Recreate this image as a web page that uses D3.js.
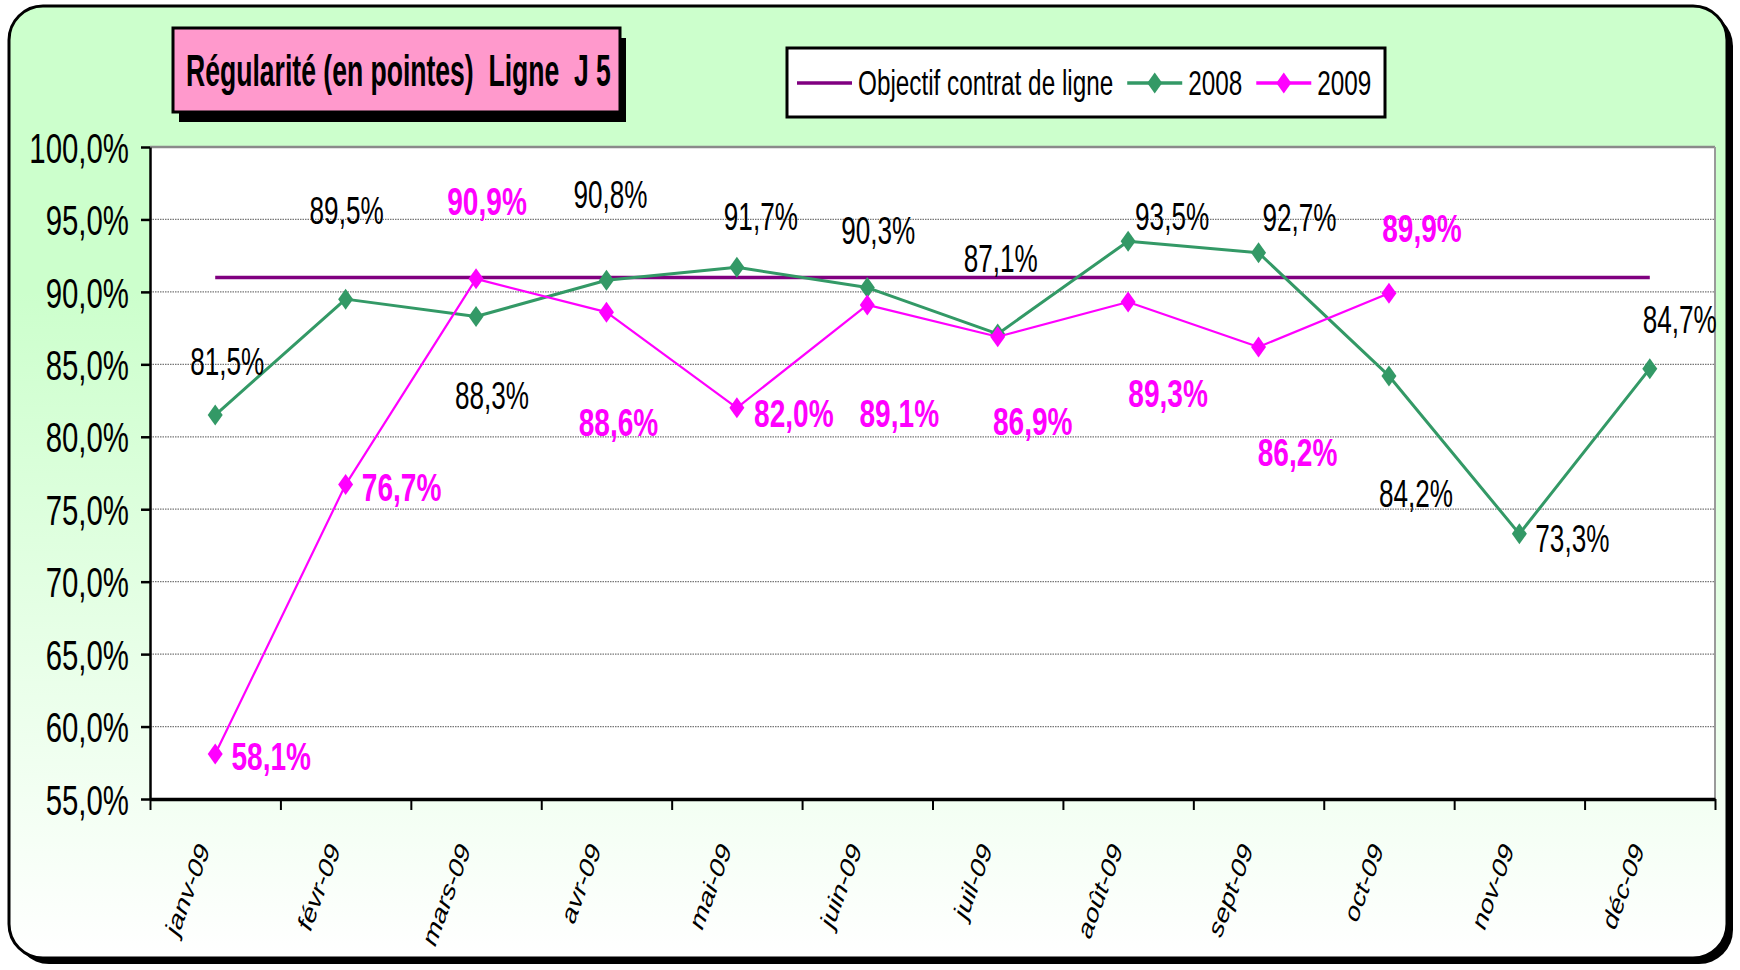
<!DOCTYPE html>
<html>
<head>
<meta charset="utf-8">
<script src="https://cdn.jsdelivr.net/npm/d3@7"></script>
<style>
  html, body { margin: 0; padding: 0; background: #ffffff; }
  svg { display: block; }
  text { font-family: "Liberation Sans", Arial, sans-serif; }
</style>
</head>
<body>
<svg id="chart" width="1740" height="970"></svg>
<script>
// ---------- data ----------
const months = ["janv-09","févr-09","mars-09","avr-09","mai-09","juin-09","juil-09","août-09","sept-09","oct-09","nov-09","déc-09"];
const values2008 = [81.5, 89.5, 88.3, 90.8, 91.7, 90.3, 87.1, 93.5, 92.7, 84.2, 73.3, 84.7];
const values2009 = [58.1, 76.7, 90.9, 88.6, 82.0, 89.1, 86.9, 89.3, 86.2, 89.9, null, null];
const objectif   = [91.0, 91.0, 91.0, 91.0, 91.0, 91.0, 91.0, 91.0, 91.0, 91.0, 91.0, 91.0];
const yTicks = [55, 60, 65, 70, 75, 80, 85, 90, 95, 100];
const seriesNames = ["Objectif contrat de ligne", "2008", "2009"];
const titleText = "Régularité (en pointes)  Ligne  J 5";

// label placement offsets (pixels from the point), layout only
const labelOffsets2008 = [[12,-54],[1,-89],[16,78],[4,-86],[24,-51],[11,-58],[3,-76],[44,-25],[41,-36],[27,117],[53,4],[30,-50]];
const labelOffsets2009 = [[56,2],[56,2],[11,-78],[12,110],[57,5],[32,108],[35,84],[40,91],[39,105],[33,-65]];

// ---------- layout ----------
const W = 1740, H = 970;
const plot = { left: 150, right: 1715, top: 147, bottom: 799 };
const C_GREEN = "#339966", C_MAG = "#FF00FF", C_PURPLE = "#800080";

const svg = d3.select("#chart");
const defs = svg.append("defs");
const grad = defs.append("linearGradient").attr("id", "bg").attr("x1", 0).attr("y1", 0).attr("x2", 0).attr("y2", 1);
grad.append("stop").attr("offset", "0%").attr("stop-color", "#CCFFCC");
grad.append("stop").attr("offset", "30%").attr("stop-color", "#CCFFCC");
grad.append("stop").attr("offset", "100%").attr("stop-color", "#FFFFFF");

// outer frame with shadow
svg.append("rect").attr("x", 15).attr("y", 12).attr("width", 1718).attr("height", 952)
  .attr("rx", 34).attr("fill", "#000");
svg.append("rect").attr("x", 9).attr("y", 6).attr("width", 1718).attr("height", 952)
  .attr("rx", 34).attr("fill", "url(#bg)").attr("stroke", "#000").attr("stroke-width", 3);

// scales
const x = d3.scaleBand().domain(months).range([plot.left, plot.right]).paddingInner(0).paddingOuter(0);
const xEdge = d3.scaleLinear().domain([0, months.length]).range([plot.left, plot.right]);
const y = d3.scaleLinear().domain([55, 100]).range([plot.bottom, plot.top]);
const cx = m => x(m) + x.bandwidth() / 2;

// plot area
svg.append("rect").attr("x", plot.left).attr("y", plot.top)
  .attr("width", plot.right - plot.left).attr("height", plot.bottom - plot.top).attr("fill", "#fff");

// gridlines
svg.append("g").selectAll("line").data(yTicks.filter(t => t > 55 && t < 100)).join("line")
  .attr("x1", plot.left).attr("x2", plot.right)
  .attr("y1", d => y(d)).attr("y2", d => y(d))
  .attr("stroke", "#777").attr("stroke-width", 1.2).attr("stroke-dasharray", "1.5,1");
// top & right borders
svg.append("line").attr("x1", plot.left).attr("x2", plot.right).attr("y1", plot.top).attr("y2", plot.top)
  .attr("stroke", "#8a8a8a").attr("stroke-width", 2.5);
svg.append("line").attr("x1", plot.right).attr("x2", plot.right).attr("y1", plot.top).attr("y2", plot.bottom)
  .attr("stroke", "#9a9a9a").attr("stroke-width", 2);

// French number format
const fr = d3.formatLocale({ decimal: ",", thousands: " ", grouping: [3], currency: ["", " €"] });
const pct = v => fr.format(".1f")(v) + "%";

// y axis
const yAxis = svg.append("g").attr("transform", `translate(${plot.left},0)`)
  .call(d3.axisLeft(y).tickValues(yTicks).tickSize(9).tickSizeOuter(0).tickFormat(pct));
yAxis.select(".domain").attr("stroke", "#000").attr("stroke-width", 2.5);
yAxis.selectAll(".tick line").attr("stroke", "#000").attr("stroke-width", 2.5);
yAxis.selectAll(".tick text")
  .attr("font-size", 42).attr("fill", "#000")
  .attr("font-family", "Liberation Sans, Arial, sans-serif")
  .attr("x", 0).attr("dy", "0.36em")
  .attr("transform", "translate(-21,0) scale(0.7,1)");

// x axis: tick marks at category edges
const xTicks = svg.append("g").attr("transform", `translate(0,${plot.bottom})`)
  .call(d3.axisBottom(xEdge).tickValues(d3.range(months.length + 1)).tickSize(11).tickSizeOuter(0).tickFormat(""));
xTicks.select(".domain").attr("stroke", "#000").attr("stroke-width", 3.5);
xTicks.selectAll(".tick line").attr("stroke", "#000").attr("stroke-width", 2);

// x axis labels
const xLab = svg.append("g").attr("transform", `translate(0,${plot.bottom})`)
  .call(d3.axisBottom(x).tickSize(0).tickSizeOuter(0));
xLab.select(".domain").remove();
xLab.selectAll(".tick text")
  .attr("font-size", 30.5).attr("fill", "#000")
  .attr("font-family", "Liberation Sans, Arial, sans-serif")
  .attr("text-anchor", "end").attr("x", 0).attr("y", 0).attr("dy", 0)
  .attr("transform", "translate(-5,51) scale(0.69,1) rotate(-62)");

// objective line
const line = d3.line().defined(d => d.v != null).x(d => cx(d.m)).y(d => y(d.v));
svg.append("path").datum(months.map((m, i) => ({ m, v: objectif[i] })))
  .attr("d", line).attr("fill", "none").attr("stroke", C_PURPLE).attr("stroke-width", 3.5);

const diamond = "M0,-10.5L7.5,0L0,10.5L-7.5,0Z";

function drawSeries(vals, color, width) {
  const data = months.map((m, i) => ({ m, v: vals[i] }));
  svg.append("path").datum(data).attr("d", line)
    .attr("fill", "none").attr("stroke", color).attr("stroke-width", width).attr("stroke-linejoin", "round");
  svg.append("g").selectAll("path").data(data.filter(d => d.v != null)).join("path")
    .attr("d", diamond).attr("fill", color)
    .attr("transform", d => `translate(${cx(d.m)},${y(d.v)})`);
}
drawSeries(values2008, C_GREEN, 3);
drawSeries(values2009, C_MAG, 2.2);

// data labels
function drawLabels(vals, offsets, color, weight, size, sq) {
  const data = months.map((m, i) => ({ m, v: vals[i], o: offsets[i] })).filter(d => d.v != null);
  svg.append("g").selectAll("text").data(data).join("text")
    .attr("text-anchor", "middle").attr("dy", "0.36em")
    .attr("font-size", size).attr("font-weight", weight).attr("fill", color)
    .attr("transform", d => `translate(${cx(d.m) + d.o[0]},${y(d.v) + d.o[1]}) scale(${sq},1)`)
    .text(d => pct(d.v));
}
drawLabels(values2008, labelOffsets2008, "#000", "normal", 39, 0.67);
drawLabels(values2009, labelOffsets2009, C_MAG, "bold", 39, 0.72);

// title box
const tb = { x: 173, y: 28, w: 447, h: 84 };
svg.append("rect").attr("x", tb.x + 6).attr("y", tb.y + 10).attr("width", tb.w).attr("height", tb.h).attr("fill", "#000");
svg.append("rect").attr("x", tb.x).attr("y", tb.y).attr("width", tb.w).attr("height", tb.h)
  .attr("fill", "#FF99CC").attr("stroke", "#000").attr("stroke-width", 3);
svg.append("text").attr("text-anchor", "middle").attr("font-size", 45).attr("font-weight", "bold")
  .attr("transform", `translate(${tb.x + tb.w / 2 + 2},${tb.y + 58}) scale(0.59,1)`)
  .attr("xml:space", "preserve").style("white-space", "pre")
  .text(titleText);

// legend
const lg = { x: 787, y: 48, w: 598, h: 69 };
svg.append("rect").attr("x", lg.x).attr("y", lg.y).attr("width", lg.w).attr("height", lg.h)
  .attr("fill", "#fff").attr("stroke", "#000").attr("stroke-width", 3);
const legColors = [C_PURPLE, C_GREEN, C_MAG];
const legMarker = [false, true, true];
const legSq = 0.675;
let lx = lg.x + 10;
const ly = lg.y + 35;
seriesNames.forEach((name, i) => {
  svg.append("line").attr("x1", lx).attr("x2", lx + 55).attr("y1", ly).attr("y2", ly)
    .attr("stroke", legColors[i]).attr("stroke-width", 3.5);
  if (legMarker[i]) {
    svg.append("path").attr("d", diamond).attr("fill", legColors[i])
      .attr("transform", `translate(${lx + 27.5},${ly})`);
  }
  const t = svg.append("text").attr("font-size", 36).attr("fill", "#000")
    .attr("transform", `translate(${lx + 61},${ly + 12}) scale(${legSq},1)`)
    .text(name);
  const w = t.node().getComputedTextLength() * legSq;
  lx = lx + 61 + w + 14;
});
</script>
</body>
</html>
